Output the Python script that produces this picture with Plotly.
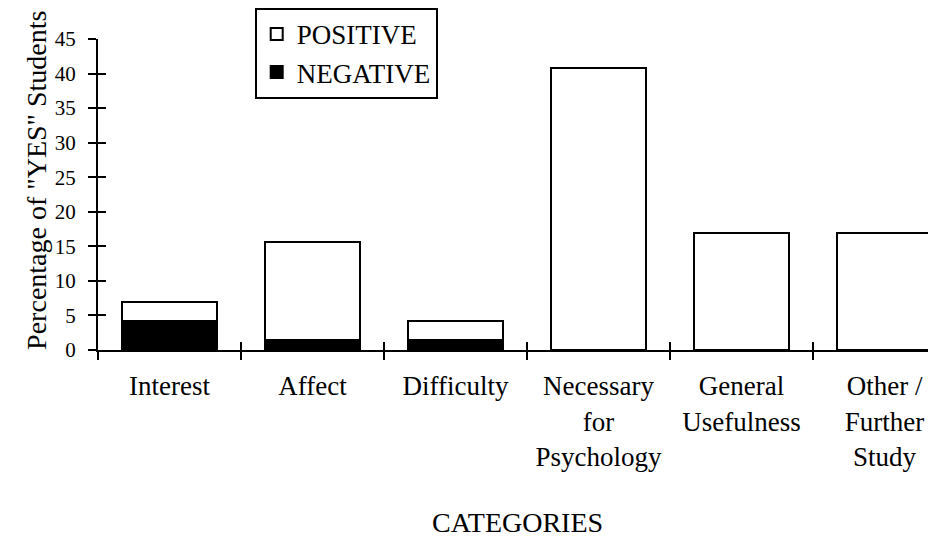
import plotly.graph_objects as go

categories = ["Interest", "Affect", "Difficulty", "Necessary<br>for<br>Psychology",
              "General<br>Usefulness", "Other /<br>Further<br>Study"]
negative = [4.2, 1.4, 1.4, None, None, None]
positive = [2.7, 14.2, 2.8, 40.8, 16.9, 16.9]
y_ticks = [0, 5, 10, 15, 20, 25, 30, 35, 40, 45]

FONT = "Liberation Serif, Times New Roman, serif"
XR = [-0.5, 5.36]
YR = [0, 45]

fig = go.Figure()
fig.add_trace(go.Bar(x=categories, y=negative, name="NEGATIVE",
                     marker=dict(color="black", line=dict(color="black", width=2)),
                     width=0.66))
fig.add_trace(go.Bar(x=categories, y=positive, name="POSITIVE",
                     marker=dict(color="white", line=dict(color="black", width=2)),
                     width=0.66))
# helper trace so the overlaid axes (inner halves of the crossing ticks) are drawn
fig.add_trace(go.Scatter(x=categories, y=[None] * len(categories), xaxis="x2", yaxis="y2",
                         showlegend=False, hoverinfo="skip"))

# page body has an 8px default margin, so the figure is 8px smaller on each axis
fig.update_layout(
    width=928, height=530,
    margin=dict(l=90, r=0, t=31, b=188, autoexpand=False),
    paper_bgcolor="white", plot_bgcolor="white",
    barmode="stack",
    font=dict(family=FONT, color="black", size=28),
    legend=dict(x=0.187, y=1.1, xanchor="left", yanchor="top",
                traceorder="reversed", bordercolor="black", borderwidth=2,
                font=dict(size=27), bgcolor="white", tracegroupgap=0,
                itemwidth=30),
    xaxis=dict(range=XR, showgrid=False, showline=True, linecolor="black", linewidth=2,
               ticks="outside", ticklen=8, tickwidth=2, tickcolor="black",
               tickson="boundaries", tickfont=dict(size=27, family=FONT),
               ticklabelstandoff=11, automargin=False, zeroline=False),
    yaxis=dict(range=YR, tickvals=y_ticks, showgrid=False, showline=True, linecolor="black",
               linewidth=2, ticks="outside", ticklen=8, tickwidth=2, tickcolor="black",
               tickfont=dict(size=21, family=FONT), ticklabelstandoff=8,
               automargin=False, zeroline=False),
    xaxis2=dict(range=XR, overlaying="x", anchor="y2", showgrid=False, showline=False,
                ticks="inside", ticklen=8, tickwidth=2, tickcolor="black",
                tickson="boundaries", showticklabels=False, zeroline=False),
    yaxis2=dict(range=YR, tickvals=y_ticks, overlaying="y", anchor="x2", showgrid=False,
                showline=False, ticks="inside", ticklen=8, tickwidth=2, tickcolor="black",
                showticklabels=False, zeroline=False),
    annotations=[
        dict(text="CATEGORIES", xref="paper", yref="paper", x=0.5, y=-0.556,
             xanchor="center", yanchor="middle", showarrow=False, font=dict(size=28)),
        dict(text='Percentage of "YES" Students', xref="paper", yref="paper",
             x=-0.0728, y=0.547, xanchor="center", yanchor="middle", textangle=-90,
             showarrow=False, font=dict(size=28)),
    ],
    showlegend=True,
)

fig.write_html("out.html")
